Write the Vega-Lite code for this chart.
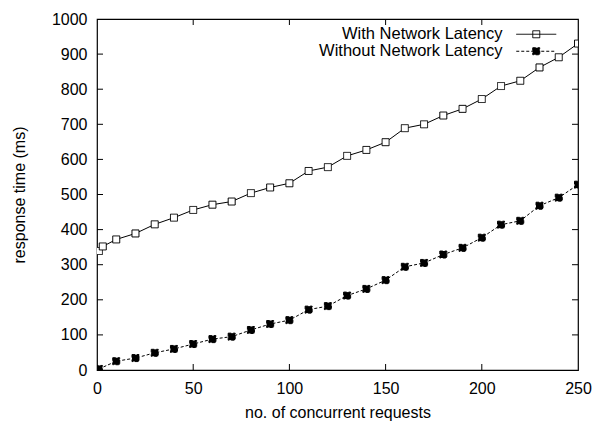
{
  "$schema": "https://vega.github.io/schema/vega-lite/v6.json",
  "width": 481,
  "height": 351,
  "autosize": "none",
  "padding": {"left": 97, "top": 19, "right": 16, "bottom": 52},
  "background": "white",
  "config": {
    "font": "Liberation Sans",
    "view": {"stroke": "black", "strokeWidth": 1.2},
    "axis": {"domain": false, "ticks": false, "tickSize": 0, "grid": false, "labelFlush": false, "labelOverlap": false, "format": "d", "labelFontSize": 16, "titleFontSize": 16, "labelColor": "black", "titleColor": "black", "titleFontWeight": "normal", "labelFont": "Liberation Sans", "titleFont": "Liberation Sans"},
    "legend": {"labelFont": "Liberation Sans"}
  },
  "datasets": {
    "pts": [
      {"x": 1, "y": 339, "series": "With Network Latency"},
      {"x": 3, "y": 352, "series": "With Network Latency"},
      {"x": 10, "y": 372, "series": "With Network Latency"},
      {"x": 20, "y": 389, "series": "With Network Latency"},
      {"x": 30, "y": 415, "series": "With Network Latency"},
      {"x": 40, "y": 434, "series": "With Network Latency"},
      {"x": 50, "y": 456, "series": "With Network Latency"},
      {"x": 60, "y": 471, "series": "With Network Latency"},
      {"x": 70, "y": 480, "series": "With Network Latency"},
      {"x": 80, "y": 504, "series": "With Network Latency"},
      {"x": 90, "y": 520, "series": "With Network Latency"},
      {"x": 100, "y": 532, "series": "With Network Latency"},
      {"x": 110, "y": 567, "series": "With Network Latency"},
      {"x": 120, "y": 578, "series": "With Network Latency"},
      {"x": 130, "y": 610, "series": "With Network Latency"},
      {"x": 140, "y": 627, "series": "With Network Latency"},
      {"x": 150, "y": 649, "series": "With Network Latency"},
      {"x": 160, "y": 689, "series": "With Network Latency"},
      {"x": 170, "y": 700, "series": "With Network Latency"},
      {"x": 180, "y": 725, "series": "With Network Latency"},
      {"x": 190, "y": 744, "series": "With Network Latency"},
      {"x": 200, "y": 772, "series": "With Network Latency"},
      {"x": 210, "y": 809, "series": "With Network Latency"},
      {"x": 220, "y": 824, "series": "With Network Latency"},
      {"x": 230, "y": 862, "series": "With Network Latency"},
      {"x": 240, "y": 891, "series": "With Network Latency"},
      {"x": 250, "y": 930, "series": "With Network Latency"},
      {"x": 1, "y": 3, "series": "Without Network Latency"},
      {"x": 10, "y": 25, "series": "Without Network Latency"},
      {"x": 20, "y": 34, "series": "Without Network Latency"},
      {"x": 30, "y": 49, "series": "Without Network Latency"},
      {"x": 40, "y": 60, "series": "Without Network Latency"},
      {"x": 50, "y": 74, "series": "Without Network Latency"},
      {"x": 60, "y": 88, "series": "Without Network Latency"},
      {"x": 70, "y": 95, "series": "Without Network Latency"},
      {"x": 80, "y": 114, "series": "Without Network Latency"},
      {"x": 90, "y": 131, "series": "Without Network Latency"},
      {"x": 100, "y": 142, "series": "Without Network Latency"},
      {"x": 110, "y": 172, "series": "Without Network Latency"},
      {"x": 120, "y": 182, "series": "Without Network Latency"},
      {"x": 130, "y": 212, "series": "Without Network Latency"},
      {"x": 140, "y": 231, "series": "Without Network Latency"},
      {"x": 150, "y": 256, "series": "Without Network Latency"},
      {"x": 160, "y": 294, "series": "Without Network Latency"},
      {"x": 170, "y": 305, "series": "Without Network Latency"},
      {"x": 180, "y": 329, "series": "Without Network Latency"},
      {"x": 190, "y": 348, "series": "Without Network Latency"},
      {"x": 200, "y": 377, "series": "Without Network Latency"},
      {"x": 210, "y": 414, "series": "Without Network Latency"},
      {"x": 220, "y": 425, "series": "Without Network Latency"},
      {"x": 230, "y": 468, "series": "Without Network Latency"},
      {"x": 240, "y": 491, "series": "Without Network Latency"},
      {"x": 250, "y": 528, "series": "Without Network Latency"}
    ],
    "xticks": [{"v": 50}, {"v": 100}, {"v": 150}, {"v": 200}],
    "yticks": [{"v": 100}, {"v": 200}, {"v": 300}, {"v": 400}, {"v": 500}, {"v": 600}, {"v": 700}, {"v": 800}, {"v": 900}]
  },
  "resolve": {"axis": {"x": "independent", "y": "independent"}},
  "layer": [
    {
      "data": {"name": "pts"},
      "transform": [{"filter": "datum.series === 'With Network Latency'"}],
      "mark": {"type": "line", "color": "black", "strokeWidth": 1, "clip": true},
      "encoding": {
        "x": {"field": "x", "type": "quantitative", "scale": {"domain": [0, 250], "nice": false}, "axis": {"values": [0, 50, 100, 150, 200, 250], "title": "no. of concurrent requests", "labelPadding": 10, "titlePadding": 8}},
        "y": {"field": "y", "type": "quantitative", "scale": {"domain": [0, 1000], "nice": false}, "axis": {"values": [0, 100, 200, 300, 400, 500, 600, 700, 800, 900, 1000], "title": "response time (ms)", "labelPadding": 10, "titlePadding": 24}}
      }
    },
    {
      "data": {"name": "pts"},
      "transform": [{"filter": "datum.series === 'Without Network Latency'"}],
      "mark": {"type": "line", "color": "black", "strokeWidth": 1, "strokeDash": [3, 2], "clip": true},
      "encoding": {
        "x": {"field": "x", "type": "quantitative", "axis": null},
        "y": {"field": "y", "type": "quantitative", "axis": null}
      }
    },
    {
      "data": {"name": "xticks"},
      "mark": {"type": "tick", "orient": "vertical", "size": 12, "thickness": 1, "color": "black", "opacity": 1, "clip": true},
      "encoding": {
        "x": {"field": "v", "type": "quantitative", "axis": null},
        "y": {"datum": 0, "type": "quantitative", "axis": null}
      }
    },
    {
      "data": {"name": "xticks"},
      "mark": {"type": "tick", "orient": "vertical", "size": 12, "thickness": 1, "color": "black", "opacity": 1, "clip": true},
      "encoding": {
        "x": {"field": "v", "type": "quantitative", "axis": null},
        "y": {"datum": 1000, "type": "quantitative", "axis": null}
      }
    },
    {
      "data": {"name": "yticks"},
      "mark": {"type": "tick", "orient": "horizontal", "size": 12, "thickness": 1, "color": "black", "opacity": 1, "clip": true},
      "encoding": {
        "y": {"field": "v", "type": "quantitative", "axis": null},
        "x": {"datum": 0, "type": "quantitative", "axis": null}
      }
    },
    {
      "data": {"name": "yticks"},
      "mark": {"type": "tick", "orient": "horizontal", "size": 12, "thickness": 1, "color": "black", "opacity": 1, "clip": true},
      "encoding": {
        "y": {"field": "v", "type": "quantitative", "axis": null},
        "x": {"datum": 250, "type": "quantitative", "axis": null}
      }
    },
    {
      "data": {"name": "pts"},
      "mark": {"type": "point", "shape": "square", "filled": true, "stroke": "black", "strokeWidth": 1, "size": 49, "opacity": 1, "clip": true},
      "encoding": {
        "x": {"field": "x", "type": "quantitative", "axis": null},
        "y": {"field": "y", "type": "quantitative", "axis": null},
        "fill": {"field": "series", "type": "nominal", "scale": {"domain": ["With Network Latency", "Without Network Latency"], "range": ["white", "black"]}, "legend": {
          "title": null, "orient": "none", "legendX": 431, "legendY": 7, "symbolType": "M-4,0H4M-0.7,-0.7H0.7V0.7H-0.7Z", "symbolSize": 100, "symbolStrokeColor": "black", "symbolStrokeWidth": 1, "labelFontSize": 16.5, "labelColor": "black", "labelAlign": "right", "labelOffset": -42, "labelLimit": 400, "rowPadding": 0
        }},
        "strokeDash": {"field": "series", "type": "nominal", "scale": {"domain": ["With Network Latency", "Without Network Latency"], "range": [[1, 0], [3, 2]]}, "legend": {
          "title": null, "orient": "none", "legendX": 431, "legendY": 7, "symbolType": "M-4,0H4M-0.7,-0.7H0.7V0.7H-0.7Z", "symbolSize": 100, "symbolStrokeColor": "black", "symbolStrokeWidth": 1, "labelFontSize": 16.5, "labelColor": "black", "labelAlign": "right", "labelOffset": -42, "labelLimit": 400, "rowPadding": 0
        }}
      }
    }
  ]
}
